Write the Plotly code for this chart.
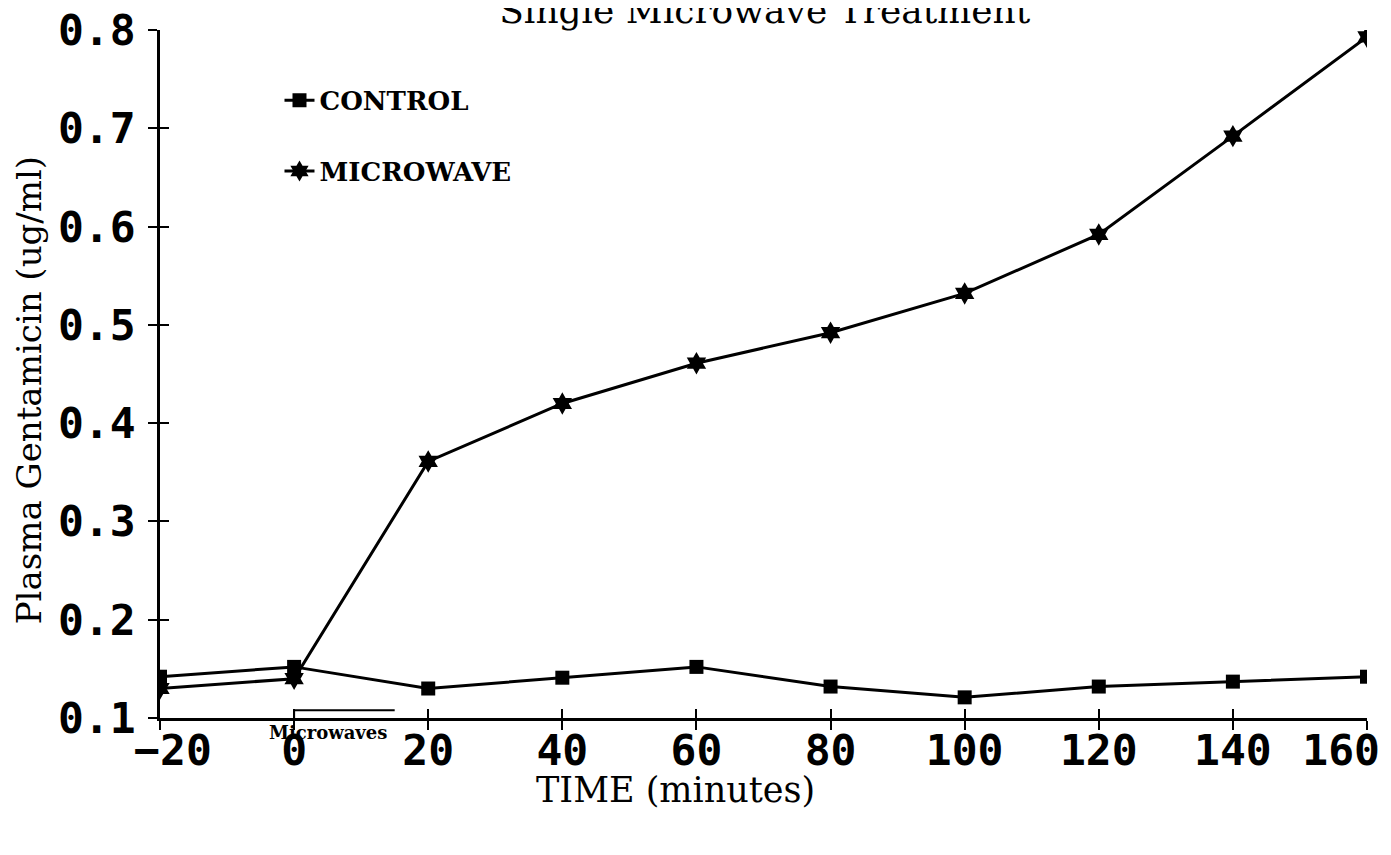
import plotly.graph_objects as go

# sampling times (minutes)
time_min = [-20, 0, 20, 40, 60, 80, 100, 120, 140, 160]

# plasma gentamicin (ug/ml)
control = [0.142, 0.152, 0.130, 0.141, 0.152, 0.132, 0.121, 0.132, 0.137, 0.142]
microwave = [0.130, 0.140, 0.361, 0.420, 0.461, 0.492, 0.532, 0.592, 0.692, 0.793]

# microwave exposure bracket
bracket_x = [0, 0, 15]
bracket_y = [0.1, 0.108, 0.108]

x_ticks = [-20, 0, 20, 40, 60, 80, 100, 120, 140, 160]
# end labels padded so they sit inside the page like the original
x_tick_labels = ['\u00a0\u221220', '0', '20', '40', '60', '80', '100', '120', '140',
                 '160\u00a0\u00a0']
y_ticks = [0.1, 0.2, 0.3, 0.4, 0.5, 0.6, 0.7, 0.8]

ink = 'black'
serif = 'DejaVu Serif'
tickfont = dict(family='DejaVu Sans Mono', size=43, color=ink, weight='bold')

fig = go.Figure()
fig.add_trace(go.Scatter(x=time_min, y=control, mode='lines+markers', name='CONTROL',
                         legendgroup='c',
                         line=dict(color=ink, width=3),
                         marker=dict(symbol='square', size=14, color=ink)))
fig.add_trace(go.Scatter(x=time_min, y=microwave, mode='lines+markers', name='MICROWAVE',
                         legendgroup='m',
                         line=dict(color=ink, width=3),
                         marker=dict(symbol='hexagram', size=17, color=ink)))
fig.add_trace(go.Scatter(x=bracket_x, y=bracket_y, mode='lines', showlegend=False,
                         xaxis='x2', yaxis='y2', hoverinfo='skip',
                         line=dict(color=ink, width=2)))

# page body adds an 8px offset, so margins are shifted by that much
fig.update_layout(
    width=1391, height=855,
    plot_bgcolor='white', paper_bgcolor='white',
    margin=dict(l=152, r=32, t=22, b=145),
    title=dict(text='Single Microwave Treatment', x=0.544, xanchor='center',
               y=0.997, yanchor='middle', font=dict(family=serif, size=36, color=ink)),
    showlegend=True,
    legend=dict(x=0.099, y=0.932, xanchor='left', yanchor='top',
                bgcolor='rgba(0,0,0,0)', itemwidth=30, tracegroupgap=34,
                font=dict(family=serif, size=26, color=ink, weight='bold')),
    xaxis=dict(range=[-20, 160], tickvals=x_ticks, ticktext=x_tick_labels,
               ticks='outside', ticklen=9,
               tickwidth=2, tickcolor=ink, showline=True, linecolor=ink, linewidth=2.5,
               showgrid=False, zeroline=False, tickfont=tickfont, ticklabelstandoff=-16,
               ticklabeloverflow='allow', automargin=False),
    yaxis=dict(range=[0.1, 0.8], tickvals=y_ticks, tickformat='.1f', ticks='outside',
               ticklen=9, tickwidth=2, tickcolor=ink, showline=True, linecolor=ink,
               linewidth=2.5, showgrid=False, zeroline=False, tickfont=tickfont,
               ticklabelstandoff=4, ticklabeloverflow='allow', automargin=False),
    xaxis2=dict(range=[-20, 160], tickvals=x_ticks, ticks='inside', ticklen=9,
                tickwidth=2, tickcolor=ink, showticklabels=False, showline=False,
                showgrid=False, zeroline=False, overlaying='x', anchor='y2'),
    yaxis2=dict(range=[0.1, 0.8], tickvals=y_ticks, ticks='inside', ticklen=9,
                tickwidth=2, tickcolor=ink, showticklabels=False, showline=False,
                showgrid=False, zeroline=False, overlaying='y', anchor='x2'),
    annotations=[
        dict(text='TIME (minutes)', xref='paper', yref='paper', x=0.427, y=-0.105,
             xanchor='center', yanchor='middle',
             showarrow=False, font=dict(family=serif, size=35, color=ink)),
        dict(text='Plasma Gentamicin (ug/ml)', xref='paper', yref='paper', x=-0.109,
             y=0.477, xanchor='center', yanchor='middle', textangle=-90, showarrow=False,
             font=dict(family=serif, size=34, color=ink)),
        dict(text='Microwaves', x=5, y=0.1, xref='x', yref='y', yshift=-14,
             showarrow=False, font=dict(family=serif, size=18, color=ink, weight='bold')),
    ],
)

fig.write_html("out.html")
